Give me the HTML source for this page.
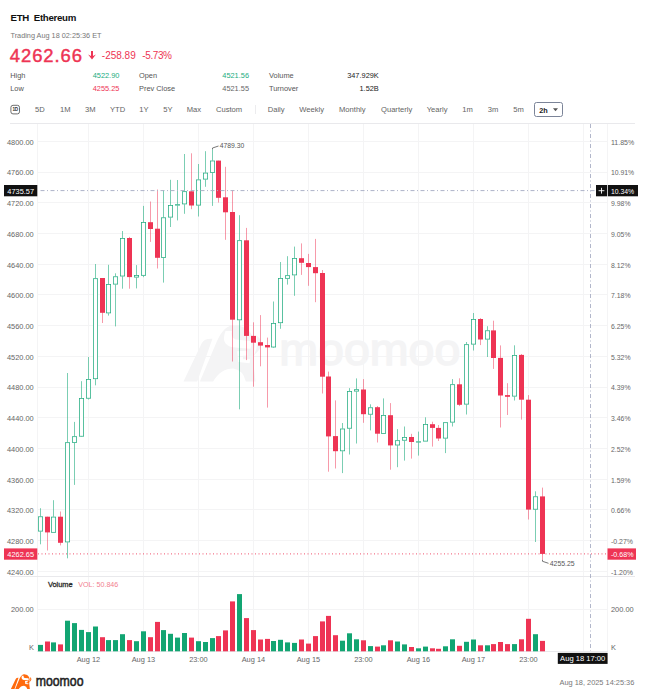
<!DOCTYPE html>
<html lang="en">
<head>
<meta charset="utf-8">
<title>ETH Ethereum</title>
<style>
html,body{margin:0;padding:0;background:#fff;}
body{width:645px;height:699px;position:relative;overflow:hidden;font-family:"Liberation Sans",sans-serif;color:#222;}
.chart{position:absolute;left:0;top:0;}
.t{position:absolute;white-space:nowrap;line-height:1;}
.name{left:10.5px;top:13.2px;font-size:9.7px;font-weight:700;color:#111;letter-spacing:-.3px;}
.sub{left:10.5px;top:31.8px;font-size:7.3px;color:#777;}
.price{left:9.8px;top:47.2px;font-size:18.4px;font-weight:400;color:#ee3454;letter-spacing:.95px;-webkit-text-stroke:.45px #ee3454;}
.chg{top:51.2px;font-size:10px;color:#ee3454;}
.lbl{font-size:7.4px;color:#555;}
.val{font-size:7.4px;text-align:right;}
.g{color:#22ac80;} .r{color:#ee3454;} .d{color:#222;} .m{color:#666;}
.tab{top:106.4px;font-size:7.6px;color:#636363;}
.b1d{left:10.7px;top:106px;width:7.6px;height:6.3px;border:1px solid #333;border-radius:2px;font-size:4.6px;font-weight:700;line-height:6.4px;text-align:center;color:#222;}
.sel{left:534px;top:102px;width:26.8px;height:13.4px;border:1px solid #7b8498;border-radius:2.5px;}
</style>
</head>
<body>
<svg class="chart" width="645" height="699" viewBox="0 0 645 699">
<g transform="translate(172.51,309.09) scale(0.1767)"><path d="M62 410 L166 192 Q182 164 226 168 L140 410 Z M155 410 L250 185 Q290 92 350 90 Q425 95 452 150 L466 200 L456 290 L470 410 L415 410 Q400 345 345 336 Q272 336 230 410 Z M474 148 Q540 196 460 262 Q490 205 474 148 Z" fill="#f4f4f5"/><path d="M300 124 Q270 200 340 216 L440 224 Q456 190 436 180 L358 172 Q328 162 336 124 Z M366 238 L422 236 L424 262 L398 264 L398 284 L440 284 L436 306 L372 300 Z" fill="#fff"/></g>
<text x="279.3" y="364.5" font-family="Liberation Sans, sans-serif" font-size="44.5" font-weight="400" fill="#f4f4f5" stroke="#f4f4f5" stroke-width="1.5" textLength="181" lengthAdjust="spacingAndGlyphs">moomoo</text>
<g stroke="#f4f4f5" stroke-width="1" shape-rendering="crispEdges">
<line x1="37" x2="608" y1="141.5" y2="141.5"/>
<line x1="37" x2="608" y1="172.5" y2="172.5"/>
<line x1="37" x2="608" y1="202.5" y2="202.5"/>
<line x1="37" x2="608" y1="233.5" y2="233.5"/>
<line x1="37" x2="608" y1="264.5" y2="264.5"/>
<line x1="37" x2="608" y1="294.5" y2="294.5"/>
<line x1="37" x2="608" y1="325.5" y2="325.5"/>
<line x1="37" x2="608" y1="356.5" y2="356.5"/>
<line x1="37" x2="608" y1="387.5" y2="387.5"/>
<line x1="37" x2="608" y1="417.5" y2="417.5"/>
<line x1="37" x2="608" y1="448.5" y2="448.5"/>
<line x1="37" x2="608" y1="479.5" y2="479.5"/>
<line x1="37" x2="608" y1="509.5" y2="509.5"/>
<line x1="37" x2="608" y1="540.5" y2="540.5"/>
<line x1="37" x2="608" y1="571.5" y2="571.5"/>
<line x1="37" x2="608" y1="609.5" y2="609.5"/>
<line x1="88.5" x2="88.5" y1="124" y2="651"/>
<line x1="143.5" x2="143.5" y1="124" y2="651"/>
<line x1="198.5" x2="198.5" y1="124" y2="651"/>
<line x1="253.5" x2="253.5" y1="124" y2="651"/>
<line x1="308.5" x2="308.5" y1="124" y2="651"/>
<line x1="363.5" x2="363.5" y1="124" y2="651"/>
<line x1="418.5" x2="418.5" y1="124" y2="651"/>
<line x1="473.5" x2="473.5" y1="124" y2="651"/>
<line x1="528.5" x2="528.5" y1="124" y2="651"/>
<line x1="583.5" x2="583.5" y1="124" y2="651"/>
<line x1="37.5" x2="37.5" y1="124" y2="651"/>
<line x1="607.5" x2="607.5" y1="124" y2="651"/>
</g>
<g stroke="#e9e9ec" stroke-width="1" shape-rendering="crispEdges">
<line x1="10" x2="635" y1="123.5" y2="123.5"/>
<line x1="10" x2="635" y1="576.5" y2="576.5"/>
<line x1="37" x2="608" y1="651.5" y2="651.5"/>
</g>
<line x1="40.5" x2="40.5" y1="508.2" y2="516.4" stroke="#22ac80" stroke-width="0.6"/>
<line x1="40.5" x2="40.5" y1="531.5" y2="544.3" stroke="#22ac80" stroke-width="0.6"/>
<rect x="38.375" y="516.77" width="4.25" height="14.35" fill="#fff" stroke="#22ac80" stroke-width="0.75"/>
<line x1="47.5" x2="47.5" y1="516.7" y2="550.5" stroke="#ee3454" stroke-width="0.5"/>
<rect x="45" y="516.7" width="5" height="15.7" fill="#ee3454"/>
<line x1="53.5" x2="53.5" y1="500.2" y2="516.7" stroke="#22ac80" stroke-width="0.6"/>
<rect x="51.375" y="517.08" width="4.25" height="15.25" fill="#fff" stroke="#22ac80" stroke-width="0.75"/>
<line x1="60.5" x2="60.5" y1="511.5" y2="545.4" stroke="#ee3454" stroke-width="0.5"/>
<rect x="58" y="516.7" width="5" height="26.1" fill="#ee3454"/>
<line x1="67.5" x2="67.5" y1="373.0" y2="442.3" stroke="#22ac80" stroke-width="0.6"/>
<line x1="67.5" x2="67.5" y1="542.3" y2="558.3" stroke="#22ac80" stroke-width="0.6"/>
<rect x="65.375" y="442.68" width="4.25" height="99.25" fill="#fff" stroke="#22ac80" stroke-width="0.75"/>
<line x1="74.5" x2="74.5" y1="421.9" y2="436.3" stroke="#22ac80" stroke-width="0.6"/>
<line x1="74.5" x2="74.5" y1="442.8" y2="484.9" stroke="#22ac80" stroke-width="0.6"/>
<rect x="72.375" y="436.68" width="4.25" height="5.75" fill="#fff" stroke="#22ac80" stroke-width="0.75"/>
<line x1="81.5" x2="81.5" y1="381.2" y2="398.1" stroke="#22ac80" stroke-width="0.6"/>
<line x1="81.5" x2="81.5" y1="436.6" y2="437.0" stroke="#22ac80" stroke-width="0.6"/>
<rect x="79.375" y="398.48" width="4.25" height="37.75" fill="#fff" stroke="#22ac80" stroke-width="0.75"/>
<line x1="88.5" x2="88.5" y1="357.0" y2="379.0" stroke="#22ac80" stroke-width="0.6"/>
<line x1="88.5" x2="88.5" y1="398.6" y2="399.5" stroke="#22ac80" stroke-width="0.6"/>
<rect x="86.375" y="379.38" width="4.25" height="18.85" fill="#fff" stroke="#22ac80" stroke-width="0.75"/>
<line x1="95.5" x2="95.5" y1="264.0" y2="278.3" stroke="#22ac80" stroke-width="0.6"/>
<line x1="95.5" x2="95.5" y1="379.1" y2="385.3" stroke="#22ac80" stroke-width="0.6"/>
<rect x="93.375" y="278.68" width="4.25" height="100.05" fill="#fff" stroke="#22ac80" stroke-width="0.75"/>
<line x1="102.5" x2="102.5" y1="278.0" y2="323.0" stroke="#ee3454" stroke-width="0.5"/>
<rect x="100" y="278.0" width="5" height="34.8" fill="#ee3454"/>
<line x1="108.5" x2="108.5" y1="264.8" y2="284.2" stroke="#22ac80" stroke-width="0.6"/>
<line x1="108.5" x2="108.5" y1="313.3" y2="315.6" stroke="#22ac80" stroke-width="0.6"/>
<rect x="106.375" y="284.57" width="4.25" height="28.35" fill="#fff" stroke="#22ac80" stroke-width="0.75"/>
<line x1="115.5" x2="115.5" y1="273.3" y2="276.4" stroke="#22ac80" stroke-width="0.6"/>
<line x1="115.5" x2="115.5" y1="284.5" y2="326.4" stroke="#22ac80" stroke-width="0.6"/>
<rect x="113.375" y="276.77" width="4.25" height="7.35" fill="#fff" stroke="#22ac80" stroke-width="0.75"/>
<line x1="122.5" x2="122.5" y1="231.0" y2="238.0" stroke="#22ac80" stroke-width="0.6"/>
<line x1="122.5" x2="122.5" y1="276.4" y2="288.7" stroke="#22ac80" stroke-width="0.6"/>
<rect x="120.375" y="238.38" width="4.25" height="37.65" fill="#fff" stroke="#22ac80" stroke-width="0.75"/>
<line x1="129.5" x2="129.5" y1="236.9" y2="288.7" stroke="#ee3454" stroke-width="0.5"/>
<rect x="127" y="238.0" width="5" height="39.1" fill="#ee3454"/>
<line x1="136.5" x2="136.5" y1="265.1" y2="275.2" stroke="#22ac80" stroke-width="0.6"/>
<line x1="136.5" x2="136.5" y1="277.5" y2="288.4" stroke="#22ac80" stroke-width="0.6"/>
<rect x="134.375" y="275.57" width="4.25" height="1.55" fill="#fff" stroke="#22ac80" stroke-width="0.75"/>
<line x1="143.5" x2="143.5" y1="205.9" y2="222.2" stroke="#22ac80" stroke-width="0.6"/>
<line x1="143.5" x2="143.5" y1="275.7" y2="277.2" stroke="#22ac80" stroke-width="0.6"/>
<rect x="141.375" y="222.57" width="4.25" height="52.75" fill="#fff" stroke="#22ac80" stroke-width="0.75"/>
<line x1="150.5" x2="150.5" y1="201.5" y2="241.9" stroke="#ee3454" stroke-width="0.5"/>
<rect x="148" y="222.2" width="5" height="6.8" fill="#ee3454"/>
<line x1="157.5" x2="157.5" y1="189.5" y2="268.5" stroke="#ee3454" stroke-width="0.5"/>
<rect x="155" y="228.7" width="5" height="29.1" fill="#ee3454"/>
<line x1="163.5" x2="163.5" y1="190.2" y2="217.4" stroke="#22ac80" stroke-width="0.6"/>
<line x1="163.5" x2="163.5" y1="257.8" y2="282.6" stroke="#22ac80" stroke-width="0.6"/>
<rect x="161.375" y="217.78" width="4.25" height="39.65" fill="#fff" stroke="#22ac80" stroke-width="0.75"/>
<line x1="170.5" x2="170.5" y1="179.8" y2="205.2" stroke="#22ac80" stroke-width="0.6"/>
<line x1="170.5" x2="170.5" y1="217.5" y2="227.0" stroke="#22ac80" stroke-width="0.6"/>
<rect x="168.375" y="205.57" width="4.25" height="11.55" fill="#fff" stroke="#22ac80" stroke-width="0.75"/>
<line x1="177.5" x2="177.5" y1="180.0" y2="204.3" stroke="#22ac80" stroke-width="0.6"/>
<line x1="177.5" x2="177.5" y1="205.5" y2="220.4" stroke="#22ac80" stroke-width="0.6"/>
<rect x="175" y="204.3" width="5" height="1.2" fill="#22ac80"/>
<line x1="184.5" x2="184.5" y1="154.0" y2="191.3" stroke="#22ac80" stroke-width="0.6"/>
<line x1="184.5" x2="184.5" y1="204.3" y2="213.8" stroke="#22ac80" stroke-width="0.6"/>
<rect x="182.375" y="191.68" width="4.25" height="12.25" fill="#fff" stroke="#22ac80" stroke-width="0.75"/>
<line x1="191.5" x2="191.5" y1="153.3" y2="209.2" stroke="#ee3454" stroke-width="0.5"/>
<rect x="189" y="191.3" width="5" height="14.2" fill="#ee3454"/>
<line x1="198.5" x2="198.5" y1="164.0" y2="179.5" stroke="#22ac80" stroke-width="0.6"/>
<line x1="198.5" x2="198.5" y1="205.5" y2="216.5" stroke="#22ac80" stroke-width="0.6"/>
<rect x="196.375" y="179.88" width="4.25" height="25.25" fill="#fff" stroke="#22ac80" stroke-width="0.75"/>
<line x1="205.5" x2="205.5" y1="151.2" y2="172.7" stroke="#22ac80" stroke-width="0.6"/>
<line x1="205.5" x2="205.5" y1="179.5" y2="186.8" stroke="#22ac80" stroke-width="0.6"/>
<rect x="203.375" y="173.07" width="4.25" height="6.05" fill="#fff" stroke="#22ac80" stroke-width="0.75"/>
<line x1="212.5" x2="212.5" y1="149.4" y2="160.6" stroke="#22ac80" stroke-width="0.6"/>
<line x1="212.5" x2="212.5" y1="173.0" y2="205.9" stroke="#22ac80" stroke-width="0.6"/>
<rect x="210.375" y="160.97" width="4.25" height="11.65" fill="#fff" stroke="#22ac80" stroke-width="0.75"/>
<line x1="218.5" x2="218.5" y1="160.6" y2="202.6" stroke="#ee3454" stroke-width="0.5"/>
<rect x="216" y="160.6" width="5" height="37.2" fill="#ee3454"/>
<line x1="225.5" x2="225.5" y1="166.8" y2="239.8" stroke="#ee3454" stroke-width="0.5"/>
<rect x="223" y="197.3" width="5" height="15.0" fill="#ee3454"/>
<line x1="232.5" x2="232.5" y1="190.0" y2="361.5" stroke="#ee3454" stroke-width="0.5"/>
<rect x="230" y="212.0" width="5" height="107.7" fill="#ee3454"/>
<line x1="239.5" x2="239.5" y1="215.2" y2="240.3" stroke="#22ac80" stroke-width="0.6"/>
<line x1="239.5" x2="239.5" y1="320.2" y2="409.3" stroke="#22ac80" stroke-width="0.6"/>
<rect x="237.375" y="240.68" width="4.25" height="79.15" fill="#fff" stroke="#22ac80" stroke-width="0.75"/>
<line x1="246.5" x2="246.5" y1="227.9" y2="360.1" stroke="#ee3454" stroke-width="0.5"/>
<rect x="244" y="240.3" width="5" height="95.6" fill="#ee3454"/>
<line x1="253.5" x2="253.5" y1="322.3" y2="386.7" stroke="#ee3454" stroke-width="0.5"/>
<rect x="251" y="335.9" width="5" height="6.8" fill="#ee3454"/>
<line x1="260.5" x2="260.5" y1="315.1" y2="366.3" stroke="#ee3454" stroke-width="0.5"/>
<rect x="258" y="342.2" width="5" height="3.4" fill="#ee3454"/>
<line x1="267.5" x2="267.5" y1="337.6" y2="407.6" stroke="#ee3454" stroke-width="0.5"/>
<rect x="265" y="345.0" width="5" height="2.4" fill="#ee3454"/>
<line x1="273.5" x2="273.5" y1="301.5" y2="323.1" stroke="#22ac80" stroke-width="0.6"/>
<line x1="273.5" x2="273.5" y1="347.4" y2="348.0" stroke="#22ac80" stroke-width="0.6"/>
<rect x="271.375" y="323.48" width="4.25" height="23.55" fill="#fff" stroke="#22ac80" stroke-width="0.75"/>
<line x1="280.5" x2="280.5" y1="262.0" y2="278.2" stroke="#22ac80" stroke-width="0.6"/>
<line x1="280.5" x2="280.5" y1="323.1" y2="328.8" stroke="#22ac80" stroke-width="0.6"/>
<rect x="278.375" y="278.57" width="4.25" height="44.15" fill="#fff" stroke="#22ac80" stroke-width="0.75"/>
<line x1="287.5" x2="287.5" y1="256.2" y2="275.3" stroke="#22ac80" stroke-width="0.6"/>
<line x1="287.5" x2="287.5" y1="278.7" y2="284.6" stroke="#22ac80" stroke-width="0.6"/>
<rect x="285.375" y="275.68" width="4.25" height="2.65" fill="#fff" stroke="#22ac80" stroke-width="0.75"/>
<line x1="294.5" x2="294.5" y1="246.6" y2="258.2" stroke="#22ac80" stroke-width="0.6"/>
<line x1="294.5" x2="294.5" y1="275.3" y2="295.8" stroke="#22ac80" stroke-width="0.6"/>
<rect x="292.375" y="258.57" width="4.25" height="16.35" fill="#fff" stroke="#22ac80" stroke-width="0.75"/>
<line x1="301.5" x2="301.5" y1="243.4" y2="274.9" stroke="#ee3454" stroke-width="0.5"/>
<rect x="299" y="258.2" width="5" height="4.6" fill="#ee3454"/>
<line x1="308.5" x2="308.5" y1="253.9" y2="285.8" stroke="#ee3454" stroke-width="0.5"/>
<rect x="306" y="263.0" width="5" height="4.1" fill="#ee3454"/>
<line x1="315.5" x2="315.5" y1="238.9" y2="302.2" stroke="#ee3454" stroke-width="0.5"/>
<rect x="313" y="267.1" width="5" height="6.1" fill="#ee3454"/>
<line x1="322.5" x2="322.5" y1="270.0" y2="393.5" stroke="#ee3454" stroke-width="0.5"/>
<rect x="320" y="273.0" width="5" height="103.7" fill="#ee3454"/>
<line x1="328.5" x2="328.5" y1="371.6" y2="471.7" stroke="#ee3454" stroke-width="0.5"/>
<rect x="326" y="376.5" width="5" height="59.9" fill="#ee3454"/>
<line x1="335.5" x2="335.5" y1="400.4" y2="468.5" stroke="#ee3454" stroke-width="0.5"/>
<rect x="333" y="436.1" width="5" height="15.1" fill="#ee3454"/>
<line x1="342.5" x2="342.5" y1="423.0" y2="428.6" stroke="#22ac80" stroke-width="0.6"/>
<line x1="342.5" x2="342.5" y1="451.2" y2="473.1" stroke="#22ac80" stroke-width="0.6"/>
<rect x="340.375" y="428.98" width="4.25" height="21.85" fill="#fff" stroke="#22ac80" stroke-width="0.75"/>
<line x1="349.5" x2="349.5" y1="388.1" y2="391.0" stroke="#22ac80" stroke-width="0.6"/>
<line x1="349.5" x2="349.5" y1="428.6" y2="454.5" stroke="#22ac80" stroke-width="0.6"/>
<rect x="347.375" y="391.38" width="4.25" height="36.85" fill="#fff" stroke="#22ac80" stroke-width="0.75"/>
<line x1="356.5" x2="356.5" y1="378.4" y2="389.3" stroke="#22ac80" stroke-width="0.6"/>
<line x1="356.5" x2="356.5" y1="391.5" y2="443.5" stroke="#22ac80" stroke-width="0.6"/>
<rect x="354.375" y="389.68" width="4.25" height="1.45" fill="#fff" stroke="#22ac80" stroke-width="0.75"/>
<line x1="363.5" x2="363.5" y1="379.1" y2="422.8" stroke="#ee3454" stroke-width="0.5"/>
<rect x="361" y="389.5" width="5" height="24.7" fill="#ee3454"/>
<line x1="370.5" x2="370.5" y1="404.3" y2="407.4" stroke="#22ac80" stroke-width="0.6"/>
<line x1="370.5" x2="370.5" y1="414.6" y2="430.4" stroke="#22ac80" stroke-width="0.6"/>
<rect x="368.375" y="407.77" width="4.25" height="6.45" fill="#fff" stroke="#22ac80" stroke-width="0.75"/>
<line x1="377.5" x2="377.5" y1="406.0" y2="442.5" stroke="#ee3454" stroke-width="0.5"/>
<rect x="375" y="407.2" width="5" height="26.5" fill="#ee3454"/>
<line x1="383.5" x2="383.5" y1="398.4" y2="415.2" stroke="#22ac80" stroke-width="0.6"/>
<rect x="381.375" y="415.57" width="4.25" height="17.85" fill="#fff" stroke="#22ac80" stroke-width="0.75"/>
<line x1="390.5" x2="390.5" y1="403.1" y2="469.7" stroke="#ee3454" stroke-width="0.5"/>
<rect x="388" y="415.2" width="5" height="30.2" fill="#ee3454"/>
<line x1="397.5" x2="397.5" y1="429.1" y2="440.3" stroke="#22ac80" stroke-width="0.6"/>
<line x1="397.5" x2="397.5" y1="445.4" y2="467.2" stroke="#22ac80" stroke-width="0.6"/>
<rect x="395.375" y="440.68" width="4.25" height="4.35" fill="#fff" stroke="#22ac80" stroke-width="0.75"/>
<line x1="404.5" x2="404.5" y1="426.5" y2="437.0" stroke="#22ac80" stroke-width="0.6"/>
<line x1="404.5" x2="404.5" y1="440.6" y2="460.6" stroke="#22ac80" stroke-width="0.6"/>
<rect x="402.375" y="437.38" width="4.25" height="2.85" fill="#fff" stroke="#22ac80" stroke-width="0.75"/>
<line x1="411.5" x2="411.5" y1="433.8" y2="458.6" stroke="#ee3454" stroke-width="0.5"/>
<rect x="409" y="437.0" width="5" height="5.0" fill="#ee3454"/>
<line x1="418.5" x2="418.5" y1="431.6" y2="441.4" stroke="#22ac80" stroke-width="0.6"/>
<line x1="418.5" x2="418.5" y1="442.4" y2="455.6" stroke="#22ac80" stroke-width="0.6"/>
<rect x="416" y="441.4" width="5" height="1.1" fill="#22ac80"/>
<line x1="425.5" x2="425.5" y1="417.3" y2="424.2" stroke="#22ac80" stroke-width="0.6"/>
<rect x="423.375" y="424.57" width="4.25" height="16.55" fill="#fff" stroke="#22ac80" stroke-width="0.75"/>
<line x1="432.5" x2="432.5" y1="421.7" y2="446.6" stroke="#ee3454" stroke-width="0.5"/>
<rect x="430" y="424.2" width="5" height="3.7" fill="#ee3454"/>
<line x1="438.5" x2="438.5" y1="425.0" y2="441.0" stroke="#ee3454" stroke-width="0.5"/>
<rect x="436" y="427.9" width="5" height="10.6" fill="#ee3454"/>
<line x1="445.5" x2="445.5" y1="438.5" y2="453.1" stroke="#22ac80" stroke-width="0.6"/>
<rect x="443.375" y="422.68" width="4.25" height="15.45" fill="#fff" stroke="#22ac80" stroke-width="0.75"/>
<line x1="452.5" x2="452.5" y1="379.1" y2="384.3" stroke="#22ac80" stroke-width="0.6"/>
<line x1="452.5" x2="452.5" y1="422.5" y2="426.5" stroke="#22ac80" stroke-width="0.6"/>
<rect x="450.375" y="384.68" width="4.25" height="37.45" fill="#fff" stroke="#22ac80" stroke-width="0.75"/>
<line x1="459.5" x2="459.5" y1="378.3" y2="406.1" stroke="#ee3454" stroke-width="0.5"/>
<rect x="457" y="384.3" width="5" height="20.5" fill="#ee3454"/>
<line x1="466.5" x2="466.5" y1="342.0" y2="344.3" stroke="#22ac80" stroke-width="0.6"/>
<line x1="466.5" x2="466.5" y1="404.5" y2="414.5" stroke="#22ac80" stroke-width="0.6"/>
<rect x="464.375" y="344.68" width="4.25" height="59.45" fill="#fff" stroke="#22ac80" stroke-width="0.75"/>
<line x1="473.5" x2="473.5" y1="313.0" y2="319.0" stroke="#22ac80" stroke-width="0.6"/>
<line x1="473.5" x2="473.5" y1="344.5" y2="350.5" stroke="#22ac80" stroke-width="0.6"/>
<rect x="471.375" y="319.38" width="4.25" height="24.75" fill="#fff" stroke="#22ac80" stroke-width="0.75"/>
<line x1="480.5" x2="480.5" y1="318.1" y2="345.1" stroke="#ee3454" stroke-width="0.5"/>
<rect x="478" y="319.0" width="5" height="20.5" fill="#ee3454"/>
<line x1="487.5" x2="487.5" y1="326.2" y2="330.4" stroke="#22ac80" stroke-width="0.6"/>
<line x1="487.5" x2="487.5" y1="339.5" y2="357.0" stroke="#22ac80" stroke-width="0.6"/>
<rect x="485.375" y="330.77" width="4.25" height="8.35" fill="#fff" stroke="#22ac80" stroke-width="0.75"/>
<line x1="493.5" x2="493.5" y1="320.7" y2="368.9" stroke="#ee3454" stroke-width="0.5"/>
<rect x="491" y="330.4" width="5" height="27.6" fill="#ee3454"/>
<line x1="500.5" x2="500.5" y1="345.4" y2="427.5" stroke="#ee3454" stroke-width="0.5"/>
<rect x="498" y="357.9" width="5" height="37.6" fill="#ee3454"/>
<line x1="507.5" x2="507.5" y1="383.2" y2="415.0" stroke="#ee3454" stroke-width="0.5"/>
<rect x="505" y="395.1" width="5" height="1.7" fill="#ee3454"/>
<line x1="514.5" x2="514.5" y1="345.3" y2="355.0" stroke="#22ac80" stroke-width="0.6"/>
<line x1="514.5" x2="514.5" y1="396.5" y2="400.5" stroke="#22ac80" stroke-width="0.6"/>
<rect x="512.375" y="355.38" width="4.25" height="40.75" fill="#fff" stroke="#22ac80" stroke-width="0.75"/>
<line x1="521.5" x2="521.5" y1="354.0" y2="419.6" stroke="#ee3454" stroke-width="0.5"/>
<rect x="519" y="354.9" width="5" height="44.8" fill="#ee3454"/>
<line x1="528.5" x2="528.5" y1="395.1" y2="519.5" stroke="#ee3454" stroke-width="0.5"/>
<rect x="526" y="399.7" width="5" height="109.9" fill="#ee3454"/>
<line x1="535.5" x2="535.5" y1="491.3" y2="496.4" stroke="#22ac80" stroke-width="0.6"/>
<line x1="535.5" x2="535.5" y1="509.6" y2="542.0" stroke="#22ac80" stroke-width="0.6"/>
<rect x="533.375" y="496.77" width="4.25" height="12.45" fill="#fff" stroke="#22ac80" stroke-width="0.75"/>
<line x1="542.5" x2="542.5" y1="487.6" y2="559.9" stroke="#ee3454" stroke-width="0.5"/>
<rect x="540" y="496.4" width="5" height="57.5" fill="#ee3454"/>
<rect x="38" y="644.9" width="5" height="6.4" fill="#12a572"/>
<rect x="45" y="641.5" width="5" height="9.8" fill="#ee3454"/>
<rect x="51" y="642.4" width="5" height="8.9" fill="#12a572"/>
<rect x="58" y="644.4" width="5" height="6.9" fill="#ee3454"/>
<rect x="65" y="620.7" width="5" height="30.6" fill="#12a572"/>
<rect x="72" y="623.1" width="5" height="28.2" fill="#12a572"/>
<rect x="79" y="629.9" width="5" height="21.4" fill="#12a572"/>
<rect x="86" y="632.1" width="5" height="19.2" fill="#12a572"/>
<rect x="93" y="626.5" width="5" height="24.8" fill="#12a572"/>
<rect x="100" y="637.2" width="5" height="14.1" fill="#ee3454"/>
<rect x="106" y="640.1" width="5" height="11.2" fill="#12a572"/>
<rect x="113" y="640.1" width="5" height="11.2" fill="#12a572"/>
<rect x="120" y="634.2" width="5" height="17.1" fill="#12a572"/>
<rect x="127" y="640.1" width="5" height="11.2" fill="#ee3454"/>
<rect x="134" y="641.2" width="5" height="10.1" fill="#12a572"/>
<rect x="141" y="631.3" width="5" height="20.0" fill="#12a572"/>
<rect x="148" y="637.2" width="5" height="14.1" fill="#ee3454"/>
<rect x="155" y="621.9" width="5" height="29.4" fill="#ee3454"/>
<rect x="161" y="630.1" width="5" height="21.2" fill="#12a572"/>
<rect x="168" y="633.8" width="5" height="17.5" fill="#12a572"/>
<rect x="175" y="637.6" width="5" height="13.7" fill="#12a572"/>
<rect x="182" y="633.0" width="5" height="18.3" fill="#12a572"/>
<rect x="189" y="637.6" width="5" height="13.7" fill="#ee3454"/>
<rect x="196" y="641.2" width="5" height="10.1" fill="#12a572"/>
<rect x="203" y="642.0" width="5" height="9.3" fill="#12a572"/>
<rect x="210" y="638.1" width="5" height="13.2" fill="#12a572"/>
<rect x="216" y="636.1" width="5" height="15.2" fill="#ee3454"/>
<rect x="223" y="630.4" width="5" height="20.9" fill="#ee3454"/>
<rect x="230" y="601.4" width="5" height="49.9" fill="#ee3454"/>
<rect x="237" y="594.1" width="5" height="57.2" fill="#12a572"/>
<rect x="244" y="618.1" width="5" height="33.2" fill="#ee3454"/>
<rect x="251" y="630.1" width="5" height="21.2" fill="#ee3454"/>
<rect x="258" y="639.5" width="5" height="11.8" fill="#ee3454"/>
<rect x="265" y="638.9" width="5" height="12.4" fill="#ee3454"/>
<rect x="271" y="641.0" width="5" height="10.3" fill="#12a572"/>
<rect x="278" y="639.8" width="5" height="11.5" fill="#12a572"/>
<rect x="285" y="642.4" width="5" height="8.9" fill="#12a572"/>
<rect x="292" y="642.9" width="5" height="8.4" fill="#12a572"/>
<rect x="299" y="639.5" width="5" height="11.8" fill="#ee3454"/>
<rect x="306" y="643.6" width="5" height="7.7" fill="#ee3454"/>
<rect x="313" y="636.1" width="5" height="15.2" fill="#ee3454"/>
<rect x="320" y="621.4" width="5" height="29.9" fill="#ee3454"/>
<rect x="326" y="615.9" width="5" height="35.4" fill="#ee3454"/>
<rect x="333" y="635.2" width="5" height="16.1" fill="#ee3454"/>
<rect x="340" y="640.7" width="5" height="10.6" fill="#12a572"/>
<rect x="347" y="633.3" width="5" height="18.0" fill="#12a572"/>
<rect x="354" y="639.3" width="5" height="12.0" fill="#12a572"/>
<rect x="361" y="640.3" width="5" height="11.0" fill="#ee3454"/>
<rect x="368" y="646.1" width="5" height="5.2" fill="#12a572"/>
<rect x="375" y="646.6" width="5" height="4.7" fill="#ee3454"/>
<rect x="381" y="645.3" width="5" height="6.0" fill="#12a572"/>
<rect x="388" y="640.3" width="5" height="11.0" fill="#ee3454"/>
<rect x="395" y="641.5" width="5" height="9.8" fill="#12a572"/>
<rect x="402" y="644.4" width="5" height="6.9" fill="#12a572"/>
<rect x="409" y="647.0" width="5" height="4.3" fill="#ee3454"/>
<rect x="416" y="648.3" width="5" height="3.0" fill="#12a572"/>
<rect x="423" y="646.6" width="5" height="4.7" fill="#12a572"/>
<rect x="430" y="648.3" width="5" height="3.0" fill="#ee3454"/>
<rect x="436" y="648.8" width="5" height="2.5" fill="#ee3454"/>
<rect x="443" y="646.3" width="5" height="5.0" fill="#12a572"/>
<rect x="450" y="639.3" width="5" height="12.0" fill="#12a572"/>
<rect x="457" y="645.8" width="5" height="5.5" fill="#ee3454"/>
<rect x="464" y="641.8" width="5" height="9.5" fill="#12a572"/>
<rect x="471" y="639.5" width="5" height="11.8" fill="#12a572"/>
<rect x="478" y="645.3" width="5" height="6.0" fill="#ee3454"/>
<rect x="485" y="645.3" width="5" height="6.0" fill="#12a572"/>
<rect x="491" y="644.1" width="5" height="7.2" fill="#ee3454"/>
<rect x="498" y="642.0" width="5" height="9.3" fill="#ee3454"/>
<rect x="505" y="644.1" width="5" height="7.2" fill="#ee3454"/>
<rect x="512" y="644.1" width="5" height="7.2" fill="#12a572"/>
<rect x="519" y="639.3" width="5" height="12.0" fill="#ee3454"/>
<rect x="526" y="618.8" width="5" height="32.5" fill="#ee3454"/>
<rect x="533" y="634.2" width="5" height="17.1" fill="#12a572"/>
<rect x="540" y="640.9" width="5" height="10.4" fill="#ee3454"/>
<line x1="38" x2="608" y1="553.9" y2="553.9" stroke="#ee3454" stroke-width="1" stroke-dasharray="1 2.5" stroke-opacity="0.85"/>
<g fill="none">
<line x1="40.5" x2="595" y1="190.6" y2="190.6" stroke="#adb2c8" stroke-width="1" stroke-dasharray="4 2.5 1 2.5"/>
<line x1="590.5" x2="590.5" y1="124" y2="651" stroke="#9da3bd" stroke-width="0.8" stroke-dasharray="4 2.5 1 2.5"/>
</g>
<g stroke="#555" stroke-width="0.8" fill="none">
<path d="M212.5 149.4 L212.5 148 L218.5 146"/>
<path d="M542.5 559.9 L542.5 561.3 L548.5 563.3"/>
</g>
<g font-family="Liberation Sans, sans-serif" font-size="7.4" fill="#555">
<text x="219.8" y="148.4" textLength="24.5" lengthAdjust="spacingAndGlyphs">4789.30</text>
<text x="549.7" y="566" textLength="25" lengthAdjust="spacingAndGlyphs">4255.25</text>
</g>
<g font-family="Liberation Sans, sans-serif" font-size="7.4" fill="#666">
<text x="7" y="144.6">4800.00</text>
<text x="7" y="175.3">4760.00</text>
<text x="7" y="206.0">4720.00</text>
<text x="7" y="236.8">4680.00</text>
<text x="7" y="267.5">4640.00</text>
<text x="7" y="298.2">4600.00</text>
<text x="7" y="328.9">4560.00</text>
<text x="7" y="359.6">4520.00</text>
<text x="7" y="390.4">4480.00</text>
<text x="7" y="421.1">4440.00</text>
<text x="7" y="451.8">4400.00</text>
<text x="7" y="482.5">4360.00</text>
<text x="7" y="513.2">4320.00</text>
<text x="7" y="544.0">4280.00</text>
<text x="7" y="574.7">4240.00</text>
<text x="611" y="144.6" textLength="23.2" lengthAdjust="spacingAndGlyphs">11.85%</text>
<text x="611" y="175.3" textLength="23.2" lengthAdjust="spacingAndGlyphs">10.91%</text>
<text x="611" y="206.0" textLength="19.5" lengthAdjust="spacingAndGlyphs">9.98%</text>
<text x="611" y="236.8" textLength="19.5" lengthAdjust="spacingAndGlyphs">9.05%</text>
<text x="611" y="267.5" textLength="19.5" lengthAdjust="spacingAndGlyphs">8.12%</text>
<text x="611" y="298.2" textLength="19.5" lengthAdjust="spacingAndGlyphs">7.18%</text>
<text x="611" y="328.9" textLength="19.5" lengthAdjust="spacingAndGlyphs">6.25%</text>
<text x="611" y="359.6" textLength="19.5" lengthAdjust="spacingAndGlyphs">5.32%</text>
<text x="611" y="390.4" textLength="19.5" lengthAdjust="spacingAndGlyphs">4.39%</text>
<text x="611" y="421.1" textLength="19.5" lengthAdjust="spacingAndGlyphs">3.46%</text>
<text x="611" y="451.8" textLength="19.5" lengthAdjust="spacingAndGlyphs">2.52%</text>
<text x="611" y="482.5" textLength="19.5" lengthAdjust="spacingAndGlyphs">1.59%</text>
<text x="611" y="513.2" textLength="19.5" lengthAdjust="spacingAndGlyphs">0.66%</text>
<text x="611" y="544.0" textLength="22" lengthAdjust="spacingAndGlyphs">-0.27%</text>
<text x="611" y="574.7" textLength="22" lengthAdjust="spacingAndGlyphs">-1.20%</text>
<text x="11" y="612.3">200.00</text>
<text x="611" y="612.3">200.00</text>
<text x="29" y="649.5">K</text>
<text x="611" y="649.5">K</text>
</g>
<g font-family="Liberation Sans, sans-serif" font-size="7.4" fill="#666" text-anchor="middle">
<text x="88.4" y="662.2">Aug 12</text>
<text x="143.4" y="662.2">Aug 13</text>
<text x="198.4" y="662.2">23:00</text>
<text x="253.4" y="662.2">Aug 14</text>
<text x="308.4" y="662.2">Aug 15</text>
<text x="363.4" y="662.2">23:00</text>
<text x="418.4" y="662.2">Aug 16</text>
<text x="473.4" y="662.2">Aug 17</text>
<text x="528.4" y="662.2">23:00</text>
</g>
<rect x="4" y="185" width="33.3" height="11.3" fill="#111"/>
<text x="7.3" y="193.5" font-family="Liberation Sans, sans-serif" font-size="7.4" fill="#fff">4735.57</text>
<rect x="596" y="185" width="11" height="11.3" fill="#111"/>
<path d="M598.6 190.7 H604.4 M601.5 187.8 V193.6" stroke="#fff" stroke-width="0.9"/>
<rect x="607.8" y="185" width="30.2" height="11.3" fill="#111"/>
<text x="611" y="193.5" font-family="Liberation Sans, sans-serif" font-size="7.4" fill="#fff" textLength="23.2" lengthAdjust="spacingAndGlyphs">10.34%</text>
<rect x="4" y="548.4" width="33.3" height="11.3" fill="#ee3454"/>
<text x="7.3" y="556.8" font-family="Liberation Sans, sans-serif" font-size="7.4" fill="#fff">4262.65</text>
<rect x="607.5" y="548.4" width="28.5" height="11.3" fill="#ee3454"/>
<text x="611" y="556.8" font-family="Liberation Sans, sans-serif" font-size="7.4" fill="#fff" textLength="22.5" lengthAdjust="spacingAndGlyphs">-0.68%</text>
<rect x="557.8" y="652.9" width="49.8" height="11" fill="#111"/>
<text x="582.7" y="661.2" font-family="Liberation Sans, sans-serif" font-size="7.6" fill="#fff" text-anchor="middle">Aug 18 17:00</text>
<text x="47.9" y="587.3" font-family="Liberation Sans, sans-serif" font-size="7.6" fill="#2a2a2a" stroke="#2a2a2a" stroke-width="0.3" textLength="24.8" lengthAdjust="spacingAndGlyphs">Volume</text>
<text x="78.3" y="587.2" font-family="Liberation Sans, sans-serif" font-size="7.4" fill="#f2808f" textLength="40" lengthAdjust="spacingAndGlyphs">VOL: 50.846</text>
<text x="634.3" y="685" font-family="Liberation Sans, sans-serif" font-size="7.4" fill="#777" text-anchor="end">Aug 18, 2025 14:25:36</text>
<g transform="translate(8,670) scale(0.04651)"><path d="M62 410 L166 192 Q182 164 226 168 L140 410 Z M155 410 L250 185 Q290 92 350 90 Q425 95 452 150 L466 200 L456 290 L470 410 L415 410 Q400 345 345 336 Q272 336 230 410 Z M474 148 Q540 196 460 262 Q490 205 474 148 Z" fill="#ff6a0d"/><path d="M300 124 Q270 200 340 216 L440 224 Q456 190 436 180 L358 172 Q328 162 336 124 Z M366 238 L422 236 L424 262 L398 264 L398 284 L440 284 L436 306 L372 300 Z" fill="#fff"/></g>
<text x="35.7" y="686.2" font-family="Liberation Sans, sans-serif" font-size="14.2" fill="#222" stroke="#222" stroke-width="0.55" textLength="47.8" lengthAdjust="spacingAndGlyphs">moomoo</text>
</svg>
<div class="t name">ETH&nbsp;&nbsp;Ethereum</div>
<div class="t sub">Trading Aug 18 02:25:36 ET</div>
<div class="t price">4262.66</div>
<svg class="t" style="left:87.8px;top:51.2px" width="8" height="9" viewBox="0 0 8 9"><path d="M0.1 3.6 L4 8.5 L7.9 3.6 L5 4.9 L5 0 L3 0 L3 4.9 Z" fill="#ee3454"/></svg>
<div class="t chg" style="left:101.8px">-258.89</div>
<div class="t chg" style="left:142.3px;letter-spacing:-.4px">-5.73%</div>

<div class="t lbl" style="left:10.2px;top:72.4px">High</div>
<div class="t lbl" style="left:10.2px;top:84.8px">Low</div>
<div class="t val g" style="left:80px;width:39.4px;top:72.4px">4522.90</div>
<div class="t val r" style="left:80px;width:39.4px;top:84.8px">4255.25</div>
<div class="t lbl" style="left:139px;top:72.4px">Open</div>
<div class="t lbl" style="left:139px;top:84.8px">Prev Close</div>
<div class="t val g" style="left:209px;width:40px;top:72.4px">4521.56</div>
<div class="t val m" style="left:209px;width:40px;top:84.8px">4521.55</div>
<div class="t lbl" style="left:269px;top:72.4px">Volume</div>
<div class="t lbl" style="left:269px;top:84.8px">Turnover</div>
<div class="t val d" style="left:329px;width:49.8px;top:72.4px">347.929K</div>
<div class="t val d" style="left:329px;width:49.8px;top:84.8px">1.52B</div>

<svg class="t" style="left:10px;top:104px" width="11" height="11" viewBox="0 0 11 11"><rect x="0.9" y="1.3" width="8.6" height="8.6" rx="2.1" fill="none" stroke="#555" stroke-width="0.85"/><text x="5.2" y="7.3" font-family="Liberation Sans, sans-serif" font-size="4.7" font-weight="700" fill="#333" text-anchor="middle" letter-spacing="-0.2">1D</text></svg>
<div class="t tab" style="left:35px">5D</div>
<div class="t tab" style="left:60px">1M</div>
<div class="t tab" style="left:85px">3M</div>
<div class="t tab" style="left:110px">YTD</div>
<div class="t tab" style="left:139.3px">1Y</div>
<div class="t tab" style="left:163.3px">5Y</div>
<div class="t tab" style="left:186.7px">Max</div>
<div class="t tab" style="left:216px">Custom</div>
<div class="t" style="left:255px;top:105px;width:1px;height:9px;background:#ececee"></div>
<div class="t tab" style="left:267.7px">Daily</div>
<div class="t tab" style="left:299.3px">Weekly</div>
<div class="t tab" style="left:339px">Monthly</div>
<div class="t tab" style="left:381px">Quarterly</div>
<div class="t tab" style="left:426.7px">Yearly</div>
<div class="t tab" style="left:462.3px">1m</div>
<div class="t tab" style="left:487.7px">3m</div>
<div class="t tab" style="left:513.3px">5m</div>
<div class="t sel"></div>
<div class="t tab" style="left:539.2px;font-weight:700;color:#222;font-size:7.3px;top:106.6px">2h</div>
<svg class="t" style="left:552.5px;top:108.2px" width="5" height="4" viewBox="0 0 5 4"><path d="M0 0.3 H5 L2.5 3.3 Z" fill="#555"/></svg>
</body>
</html>
